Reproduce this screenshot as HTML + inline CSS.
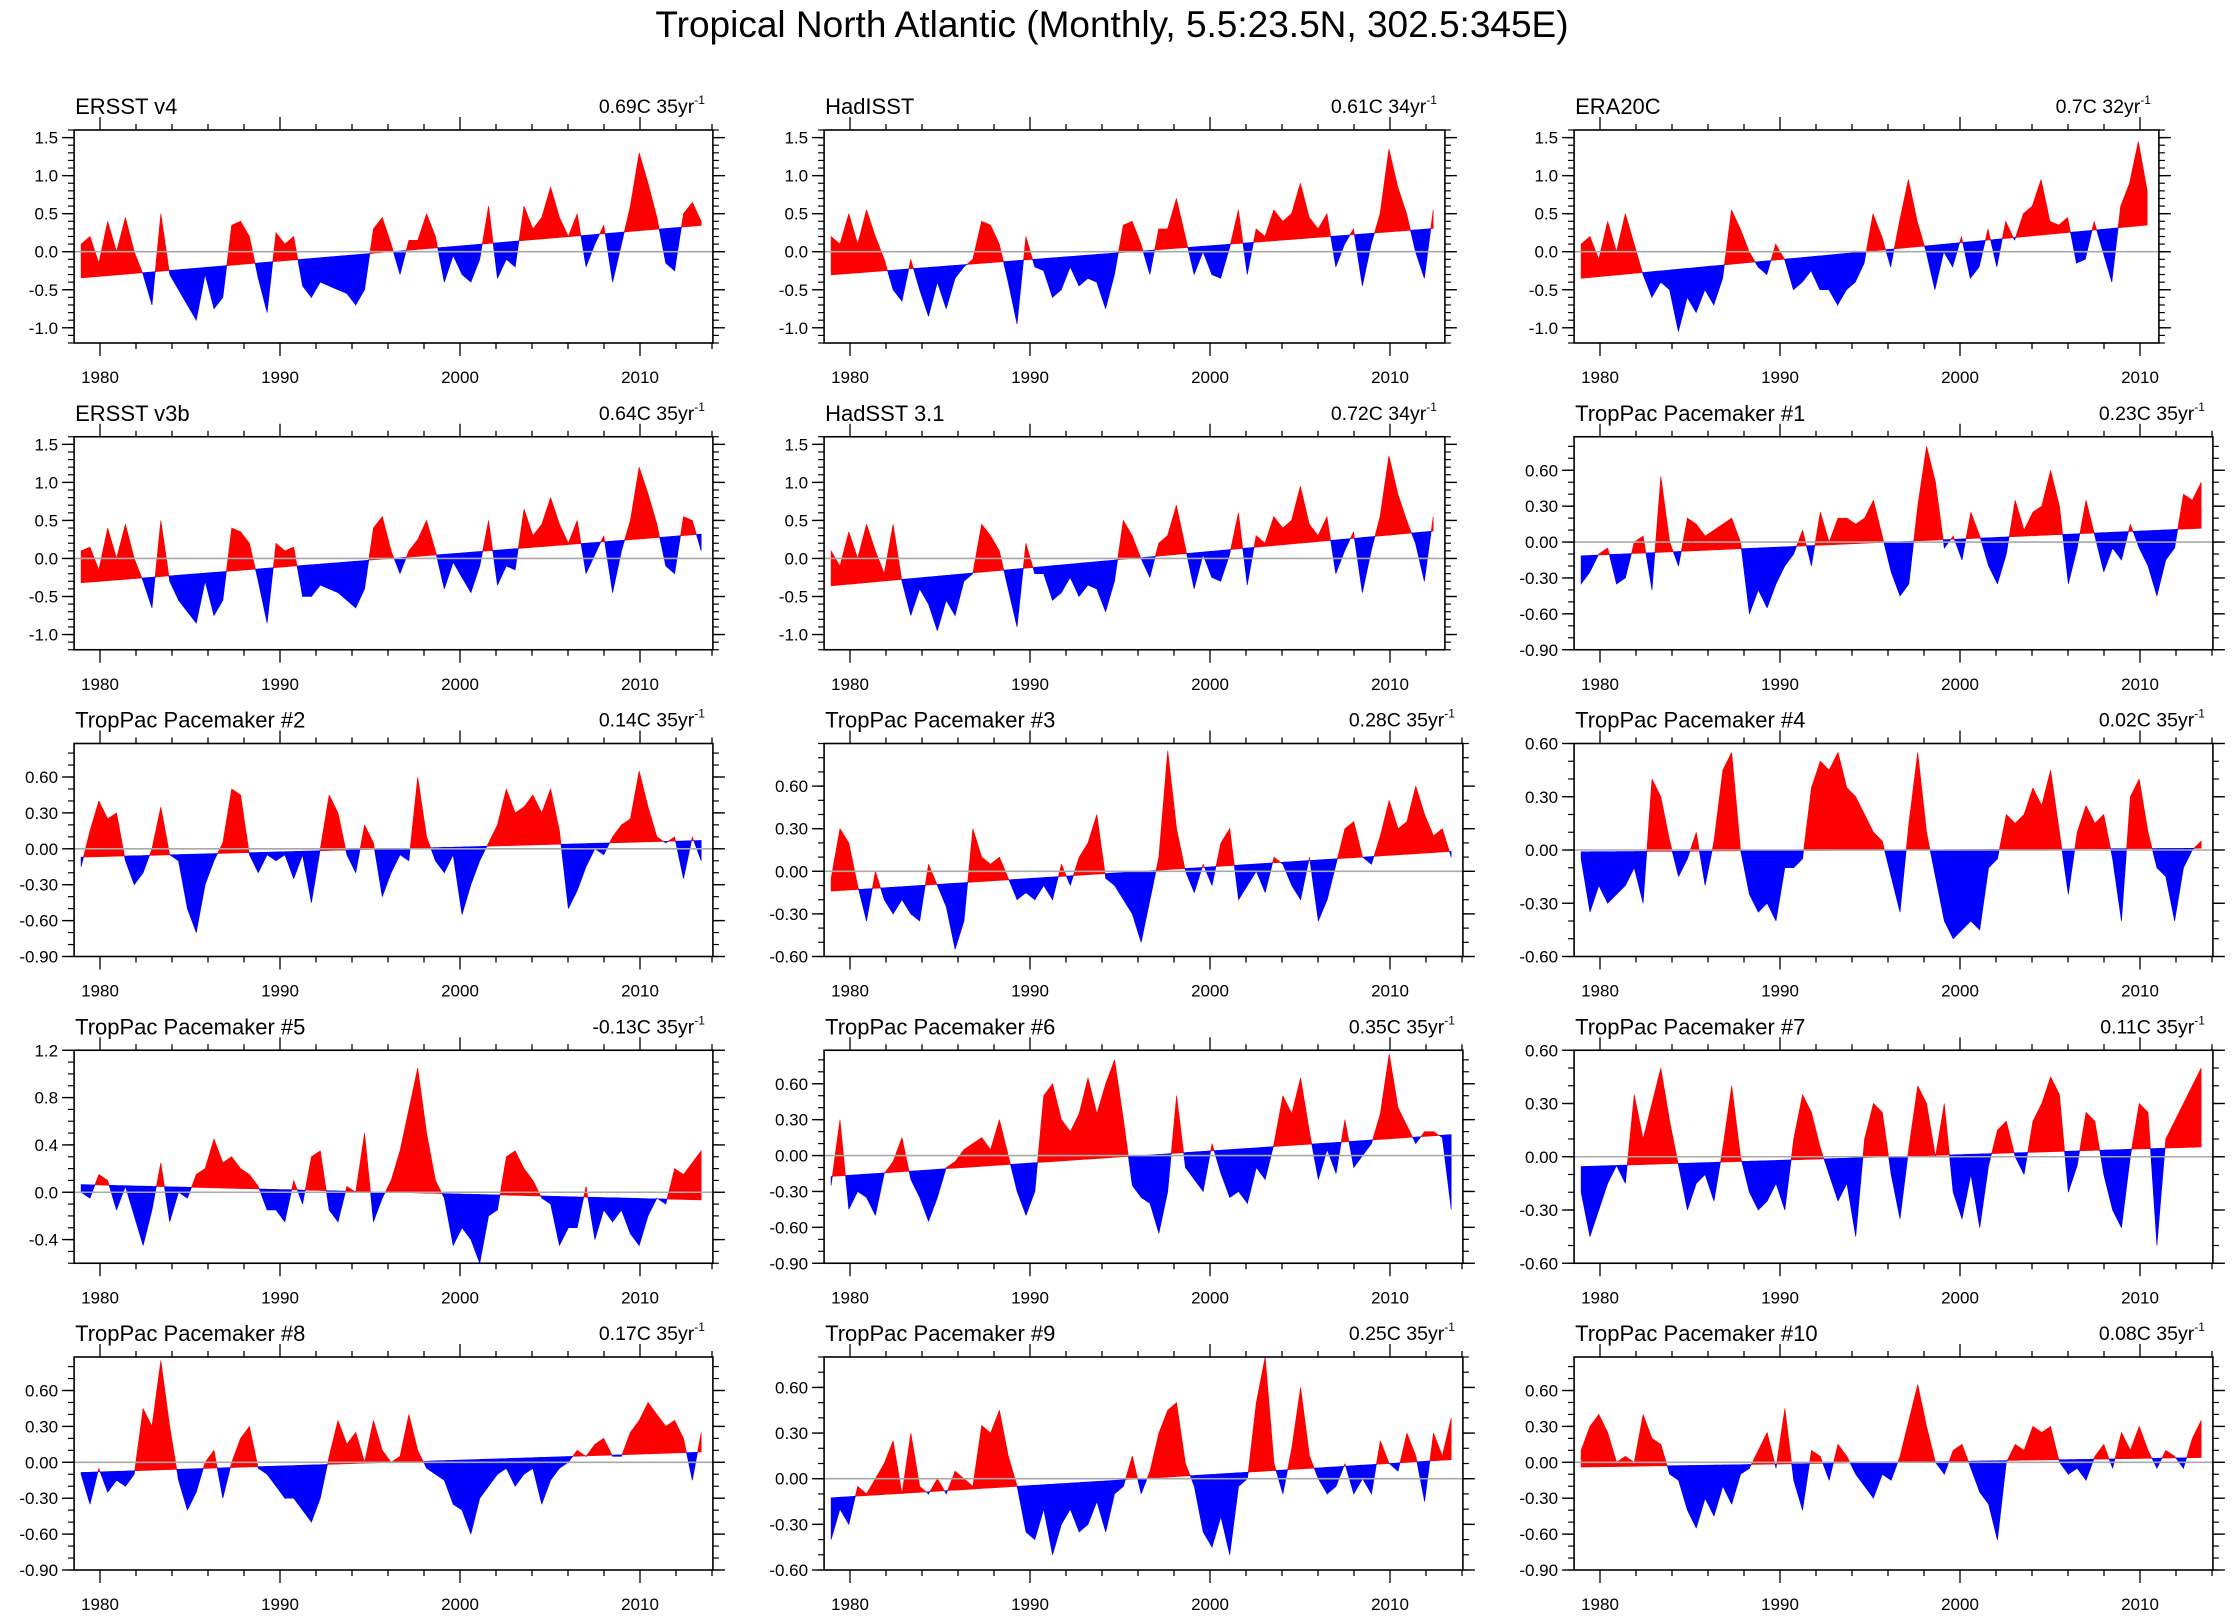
<!DOCTYPE html>
<html>
<head>
<meta charset="utf-8">
<style>
html,body{margin:0;padding:0;background:#fff;}
svg{display:block;font-family:"Liberation Sans",Arial,sans-serif;}
</style>
</head>
<body>
<svg id="fig" width="2236" height="1620" viewBox="0 0 2236 1620" xmlns="http://www.w3.org/2000/svg">
<rect x="0" y="0" width="2236" height="1620" fill="#fff"/>
<text x="1112" y="37" font-size="37" text-anchor="middle" fill="#000">Tropical North Atlantic (Monthly, 5.5:23.5N, 302.5:345E)</text>
</svg>
<script>
// ---- data (semi-annual samples, anomalies in C) ----
const ersstV4Values = [0.1,0.2,-0.15,0.4,0.0,0.45,0.0,-0.3,-0.7,0.5,-0.3,-0.5,-0.7,-0.9,-0.3,-0.75,-0.6,0.35,0.4,0.2,-0.35,-0.8,0.25,0.1,0.2,-0.45,-0.6,-0.4,-0.45,-0.5,-0.55,-0.7,-0.5,0.3,0.45,0.1,-0.3,0.15,0.15,0.5,0.2,-0.4,-0.05,-0.3,-0.4,-0.1,0.6,-0.35,-0.1,-0.2,0.6,0.3,0.45,0.85,0.45,0.2,0.5,-0.2,0.1,0.35,-0.4,0.1,0.6,1.3,0.9,0.45,-0.15,-0.25,0.5,0.65,0.4];
const hadisstValues = [0.2,0.1,0.5,0.1,0.55,0.2,-0.1,-0.5,-0.65,-0.1,-0.5,-0.85,-0.4,-0.75,-0.35,-0.2,-0.1,0.4,0.35,0.1,-0.4,-0.95,0.2,-0.2,-0.25,-0.6,-0.5,-0.2,-0.45,-0.35,-0.4,-0.75,-0.3,0.35,0.4,0.1,-0.3,0.3,0.3,0.7,0.2,-0.3,0.0,-0.3,-0.35,0.05,0.55,-0.3,0.3,0.2,0.55,0.4,0.5,0.9,0.45,0.3,0.5,-0.2,0.1,0.3,-0.45,0.1,0.5,1.35,0.85,0.5,0.0,-0.35,0.55];
const era20cValues = [0.1,0.2,-0.1,0.4,0.0,0.5,0.1,-0.3,-0.6,-0.4,-0.5,-1.05,-0.6,-0.8,-0.5,-0.7,-0.35,0.55,0.3,0.0,-0.2,-0.3,0.1,-0.1,-0.5,-0.4,-0.25,-0.5,-0.5,-0.7,-0.5,-0.4,-0.15,0.5,0.2,-0.2,0.4,0.95,0.4,0.0,-0.5,0.0,-0.2,0.2,-0.35,-0.2,0.3,-0.2,0.4,0.15,0.5,0.6,0.95,0.4,0.35,0.45,-0.15,-0.1,0.4,0.0,-0.4,0.6,0.9,1.45,0.8];
const ersstV3bValues = [0.1,0.15,-0.15,0.4,0.0,0.45,0.0,-0.3,-0.65,0.5,-0.3,-0.55,-0.7,-0.85,-0.3,-0.75,-0.55,0.4,0.35,0.2,-0.3,-0.85,0.2,0.1,0.15,-0.5,-0.5,-0.35,-0.4,-0.45,-0.55,-0.65,-0.4,0.4,0.55,0.1,-0.2,0.1,0.25,0.5,0.1,-0.4,-0.05,-0.25,-0.45,-0.1,0.5,-0.35,-0.1,-0.15,0.65,0.3,0.45,0.8,0.45,0.2,0.5,-0.2,0.05,0.3,-0.45,0.1,0.5,1.2,0.85,0.45,-0.1,-0.2,0.55,0.5,0.1];
const hadsstValues = [0.1,-0.1,0.35,0.0,0.45,0.1,-0.2,0.45,-0.3,-0.75,-0.4,-0.6,-0.95,-0.55,-0.75,-0.3,-0.2,0.45,0.3,0.1,-0.4,-0.9,0.2,-0.2,-0.2,-0.55,-0.45,-0.25,-0.5,-0.35,-0.4,-0.7,-0.3,0.5,0.3,0.0,-0.25,0.2,0.3,0.7,0.15,-0.4,0.05,-0.25,-0.3,0.05,0.6,-0.35,0.3,0.2,0.55,0.4,0.5,0.95,0.45,0.3,0.55,-0.2,0.1,0.35,-0.45,0.1,0.55,1.35,0.85,0.5,0.2,-0.3,0.55];
const pm1Values = [-0.35,-0.25,-0.1,-0.05,-0.35,-0.3,0.0,0.05,-0.4,0.55,0.0,-0.2,0.2,0.15,0.05,0.1,0.15,0.2,0.0,-0.6,-0.4,-0.55,-0.35,-0.2,-0.1,0.1,-0.2,0.25,0.0,0.2,0.2,0.15,0.2,0.35,0.05,-0.25,-0.45,-0.35,0.3,0.8,0.5,-0.05,0.05,-0.15,0.25,0.05,-0.2,-0.35,-0.1,0.35,0.1,0.25,0.3,0.6,0.3,-0.35,-0.05,0.35,0.05,-0.25,-0.05,-0.15,0.15,-0.05,-0.2,-0.45,-0.15,-0.05,0.4,0.35,0.5];
const pm2Values = [-0.15,0.15,0.4,0.25,0.3,-0.1,-0.3,-0.2,0.0,0.35,-0.05,-0.1,-0.5,-0.7,-0.3,-0.1,0.05,0.5,0.45,-0.05,-0.2,-0.05,-0.1,-0.05,-0.25,-0.05,-0.45,0.0,0.45,0.3,-0.05,-0.2,0.2,0.05,-0.4,-0.2,-0.05,-0.1,0.6,0.1,-0.1,-0.2,-0.05,-0.55,-0.3,-0.1,0.05,0.2,0.5,0.3,0.35,0.45,0.3,0.5,0.15,-0.5,-0.35,-0.15,0.0,-0.05,0.1,0.2,0.25,0.65,0.35,0.1,0.05,0.1,-0.25,0.1,-0.1];
const pm3Values = [-0.05,0.3,0.2,-0.1,-0.35,0.0,-0.2,-0.3,-0.2,-0.3,-0.35,0.05,-0.1,-0.25,-0.55,-0.35,0.3,0.1,0.05,0.1,-0.05,-0.2,-0.15,-0.2,-0.1,-0.2,0.05,-0.1,0.1,0.2,0.4,-0.05,-0.1,-0.2,-0.3,-0.5,-0.2,0.1,0.85,0.3,0.0,-0.15,0.05,-0.1,0.2,0.3,-0.2,-0.1,0.0,-0.15,0.1,0.05,-0.1,-0.2,0.1,-0.35,-0.2,0.05,0.3,0.35,0.1,0.05,0.25,0.5,0.3,0.35,0.6,0.4,0.25,0.3,0.1];
const pm4Values = [-0.05,-0.35,-0.2,-0.3,-0.25,-0.2,-0.1,-0.3,0.4,0.3,0.05,-0.15,-0.05,0.1,-0.2,0.05,0.45,0.55,0.0,-0.25,-0.35,-0.3,-0.4,-0.1,-0.1,-0.05,0.35,0.5,0.45,0.55,0.35,0.3,0.2,0.1,0.05,-0.15,-0.35,0.15,0.55,0.1,-0.15,-0.4,-0.5,-0.45,-0.4,-0.45,-0.1,-0.05,0.2,0.15,0.2,0.35,0.25,0.45,0.1,-0.25,0.1,0.25,0.15,0.2,-0.05,-0.4,0.3,0.4,0.1,-0.1,-0.15,-0.4,-0.1,0.0,0.05];
const pm5Values = [0.0,-0.05,0.15,0.1,-0.15,0.05,-0.2,-0.45,-0.15,0.25,-0.25,0.0,-0.05,0.15,0.2,0.45,0.25,0.3,0.2,0.15,0.05,-0.15,-0.15,-0.25,0.1,-0.1,0.3,0.35,-0.15,-0.25,0.05,0.0,0.5,-0.25,-0.05,0.1,0.35,0.7,1.05,0.5,0.1,-0.05,-0.45,-0.3,-0.4,-0.6,-0.2,-0.15,0.3,0.35,0.2,0.1,-0.05,-0.1,-0.45,-0.3,-0.3,0.05,-0.4,-0.15,-0.25,-0.15,-0.35,-0.45,-0.2,-0.05,-0.1,0.2,0.15,0.25,0.35];
const pm6Values = [-0.25,0.3,-0.45,-0.3,-0.35,-0.5,-0.15,-0.05,0.15,-0.2,-0.35,-0.55,-0.35,-0.1,-0.05,0.05,0.1,0.15,0.05,0.3,0.0,-0.3,-0.5,-0.3,0.5,0.6,0.3,0.2,0.35,0.65,0.35,0.6,0.8,0.3,-0.25,-0.35,-0.4,-0.65,-0.3,0.5,-0.1,-0.2,-0.3,0.1,-0.15,-0.35,-0.3,-0.4,-0.1,-0.2,0.1,0.5,0.35,0.65,0.2,-0.2,0.05,-0.15,0.3,-0.1,0.0,0.1,0.35,0.85,0.4,0.25,0.1,0.2,0.2,0.15,-0.45];
const pm7Values = [-0.2,-0.45,-0.3,-0.15,-0.05,-0.15,0.35,0.1,0.3,0.5,0.2,-0.05,-0.3,-0.15,-0.1,-0.25,0.05,0.4,0.0,-0.2,-0.3,-0.25,-0.15,-0.3,0.1,0.35,0.25,0.05,-0.1,-0.25,-0.15,-0.45,0.1,0.3,0.25,-0.1,-0.35,0.05,0.4,0.3,0.0,0.3,-0.2,-0.35,-0.1,-0.4,-0.05,0.15,0.2,0.0,-0.1,0.2,0.3,0.45,0.35,-0.2,-0.05,0.25,0.2,-0.1,-0.3,-0.4,0.0,0.3,0.25,-0.5,0.1,0.2,0.3,0.4,0.5];
const pm8Values = [-0.1,-0.35,-0.05,-0.25,-0.15,-0.2,-0.1,0.45,0.3,0.85,0.3,-0.15,-0.4,-0.25,0.0,0.1,-0.3,0.0,0.2,0.3,-0.05,-0.1,-0.2,-0.3,-0.3,-0.4,-0.5,-0.3,0.05,0.35,0.15,0.25,0.0,0.35,0.1,0.0,0.05,0.4,0.1,-0.05,-0.1,-0.15,-0.35,-0.4,-0.6,-0.3,-0.2,-0.1,-0.05,-0.2,-0.1,-0.05,-0.35,-0.15,-0.05,0.0,0.1,0.05,0.15,0.2,0.05,0.05,0.25,0.35,0.5,0.4,0.3,0.35,0.2,-0.15,0.25];
const pm9Values = [-0.4,-0.2,-0.3,-0.05,-0.1,0.0,0.1,0.25,-0.1,0.3,-0.05,-0.1,0.0,-0.1,0.05,0.0,-0.05,0.35,0.3,0.45,0.15,-0.05,-0.35,-0.4,-0.2,-0.5,-0.3,-0.2,-0.35,-0.3,-0.15,-0.35,-0.1,-0.05,0.15,-0.1,0.05,0.3,0.45,0.5,0.1,-0.05,-0.35,-0.45,-0.25,-0.5,-0.05,0.0,0.5,0.8,0.1,-0.1,0.2,0.6,0.15,0.0,-0.1,-0.05,0.1,-0.1,0.0,-0.1,0.25,0.1,0.05,0.3,0.15,-0.15,0.3,0.15,0.4];
const pm10Values = [0.1,0.3,0.4,0.25,0.0,0.05,0.0,0.4,0.2,0.15,-0.1,-0.15,-0.4,-0.55,-0.3,-0.45,-0.2,-0.35,-0.1,-0.05,0.1,0.25,-0.05,0.45,-0.15,-0.4,0.1,0.05,-0.15,0.15,0.05,-0.1,-0.2,-0.3,-0.1,-0.15,0.05,0.35,0.65,0.3,0.0,-0.1,0.1,0.15,-0.05,-0.25,-0.35,-0.65,0.0,0.15,0.1,0.3,0.25,0.3,0.0,-0.1,-0.05,-0.15,0.05,0.15,-0.05,0.25,0.1,0.3,0.1,-0.05,0.1,0.05,-0.05,0.2,0.35];

const panelTitles = ["ERSST v4","HadISST","ERA20C","ERSST v3b","HadSST 3.1","TropPac Pacemaker #1","TropPac Pacemaker #2","TropPac Pacemaker #3","TropPac Pacemaker #4","TropPac Pacemaker #5","TropPac Pacemaker #6","TropPac Pacemaker #7","TropPac Pacemaker #8","TropPac Pacemaker #9","TropPac Pacemaker #10"];
const trendTotals = [0.69,0.61,0.7,0.64,0.72,0.23,0.14,0.28,0.02,-0.13,0.35,0.11,0.17,0.25,0.08];
const recordYears = [35,34,32,35,34,35,35,35,35,35,35,35,35,35,35];
const trendLabels = ["0.69C 35yr","0.61C 34yr","0.7C 32yr","0.64C 35yr","0.72C 34yr","0.23C 35yr","0.14C 35yr","0.28C 35yr","0.02C 35yr","-0.13C 35yr","0.35C 35yr","0.11C 35yr","0.17C 35yr","0.25C 35yr","0.08C 35yr"];
const seriesList = [ersstV4Values,hadisstValues,era20cValues,ersstV3bValues,hadsstValues,pm1Values,pm2Values,pm3Values,pm4Values,pm5Values,pm6Values,pm7Values,pm8Values,pm9Values,pm10Values];
const yMins = [-1.2,-1.2,-1.2,-1.2,-1.2,-0.9,-0.9,-0.6,-0.6,-0.6,-0.9,-0.6,-0.9,-0.6,-0.9];
const yMaxs = [1.6,1.6,1.6,1.6,1.6,0.88,0.88,0.9,0.6,1.2,0.88,0.6,0.88,0.8,0.88];
const yTickLabelsObs = ["-1.0","-0.5","0.0","0.5","1.0","1.5"];
const yTickLabelsA = ["-0.90","-0.60","-0.30","0.00","0.30","0.60"];
const yTickLabelsB = ["-0.60","-0.30","0.00","0.30","0.60"];
const yTickLabelsC = ["-0.4","0.0","0.4","0.8","1.2"];
const yTickSets = [yTickLabelsObs,yTickLabelsObs,yTickLabelsObs,yTickLabelsObs,yTickLabelsObs,yTickLabelsA,yTickLabelsA,yTickLabelsB,yTickLabelsB,yTickLabelsC,yTickLabelsA,yTickLabelsB,yTickLabelsA,yTickLabelsB,yTickLabelsA];
const xTickLabels = ["1980","1990","2000","2010"];

const NS = "http://www.w3.org/2000/svg";
const svg = document.getElementById("fig");
const PXYR = 18, BOXH = 213, START = 1978.95, BOXLEFT = 1978.56;
function mk(tag, attrs, parent){
  const e = document.createElementNS(NS, tag);
  for (const k in attrs) e.setAttribute(k, attrs[k]);
  (parent||svg).appendChild(e);
  return e;
}
function slug(s){return s.toLowerCase().replace(/[^a-z0-9]+/g,'-').replace(/^-|-$/g,'');}

seriesList.forEach(function(vals, p){
  const col = p % 3, row = Math.floor(p / 3);
  const ox = 100 + 750*col;
  const bottom = 343 + 306.75*row;
  const top = bottom - BOXH;
  const yMin = yMins[p], yMax = yMaxs[p];
  const X = function(t){ return ox + (t - 1980)*PXYR; };
  const Y = function(v){ return bottom - (v - yMin)/(yMax - yMin)*BOXH; };
  const dataEnd = 1978.95 + recordYears[p] - 0.55;
  const boxRight = dataEnd + 0.65;
  const xl = X(BOXLEFT), xr = X(boxRight);
  const name = slug(panelTitles[p]);

  const g = mk("g", {});
  
  

  const n = vals.length, step = (dataEnd - START)/(n-1), T = trendTotals[p];
  const trend = function(t){ return T*((t - START)/(dataEnd - START) - 0.5); };
  let red = "", blue = "";
  function poly(pts, pos){
    let s = "M" + pts.map(function(q){return X(q[0]).toFixed(2)+","+Y(q[1]).toFixed(2);}).join("L") + "Z";
    if (pos) red += s; else blue += s;
  }
  for (let i = 0; i < n-1; i++){
    const t0 = START + i*step, t1 = START + (i+1)*step;
    const v0 = vals[i], v1 = vals[i+1], r0 = trend(t0), r1 = trend(t1);
    const d0 = v0 - r0, d1 = v1 - r1;
    if ((d0 >= 0 && d1 >= 0) || (d0 <= 0 && d1 <= 0)){
      poly([[t0,v0],[t1,v1],[t1,r1],[t0,r0]], (d0 + d1) >= 0);
    } else {
      const f = d0/(d0 - d1), tc = t0 + f*(t1 - t0), vc = v0 + f*(v1 - v0);
      poly([[t0,v0],[tc,vc],[t0,r0]], d0 > 0);
      poly([[tc,vc],[t1,v1],[t1,r1]], d1 > 0);
    }
  }
  const redPath = mk("path", {d: red, fill: "#ff0000", stroke: "#ff0000", "stroke-width": "0.6"}, g);
  
  
  const bluePath = mk("path", {d: blue, fill: "#0000ff", stroke: "#0000ff", "stroke-width": "0.6"}, g);
  
  

  const zl = mk("line", {x1: xl, x2: xr, y1: Y(0), y2: Y(0), stroke: "#a8a8a8", "stroke-width": "1.6"}, g);
  
  

  const fr = mk("rect", {x: xl, y: top, width: xr - xl, height: BOXH, fill: "none", stroke: "#000", "stroke-width": "1.6"}, g);
  
  

  for (let yr = 1980; yr <= boxRight; yr += 2){
    const major = (yr % 10 === 0), L = major ? 13 : 6, x = X(yr);
    mk("line", {x1: x, x2: x, y1: bottom, y2: bottom + L, stroke: "#000", "stroke-width": "1.3"}, g);
    mk("line", {x1: x, x2: x, y1: top, y2: top - L, stroke: "#000", "stroke-width": "1.3"}, g);
  }
  xTickLabels.forEach(function(lab){
    const t = mk("text", {x: X(+lab), y: bottom + 40, "font-size": "17", "text-anchor": "middle"}, g);
    t.textContent = lab;
    
    
  });

  for (let k = Math.ceil(yMin*10 - 1e-6); k <= Math.floor(yMax*10 + 1e-6); k++){
    const y = Y(k/10);
    mk("line", {x1: xl, x2: xl - 6, y1: y, y2: y, stroke: "#000", "stroke-width": "1.2"}, g);
    mk("line", {x1: xr, x2: xr + 6, y1: y, y2: y, stroke: "#000", "stroke-width": "1.2"}, g);
  }
  yTickSets[p].forEach(function(lab){
    const y = Y(+lab);
    mk("line", {x1: xl, x2: xl - 12, y1: y, y2: y, stroke: "#000", "stroke-width": "1.4"}, g);
    mk("line", {x1: xr, x2: xr + 12, y1: y, y2: y, stroke: "#000", "stroke-width": "1.4"}, g);
    const t = mk("text", {x: xl - 16, y: y + 6, "font-size": "17", "text-anchor": "end"}, g);
    t.textContent = lab;
    
    
  });

  const tt = mk("text", {x: xl + 1, y: top - 16, "font-size": "22"}, g);
  tt.textContent = panelTitles[p];
  
  
  const tr = mk("text", {x: xr - 8, y: top - 17, "font-size": "19.5", "text-anchor": "end"}, g);
  tr.textContent = trendLabels[p];
  const sup = mk("tspan", {"font-size": "12", dy: "-9"}, tr);
  sup.textContent = "-1";
  
  
});
</script>
</body>
</html>
